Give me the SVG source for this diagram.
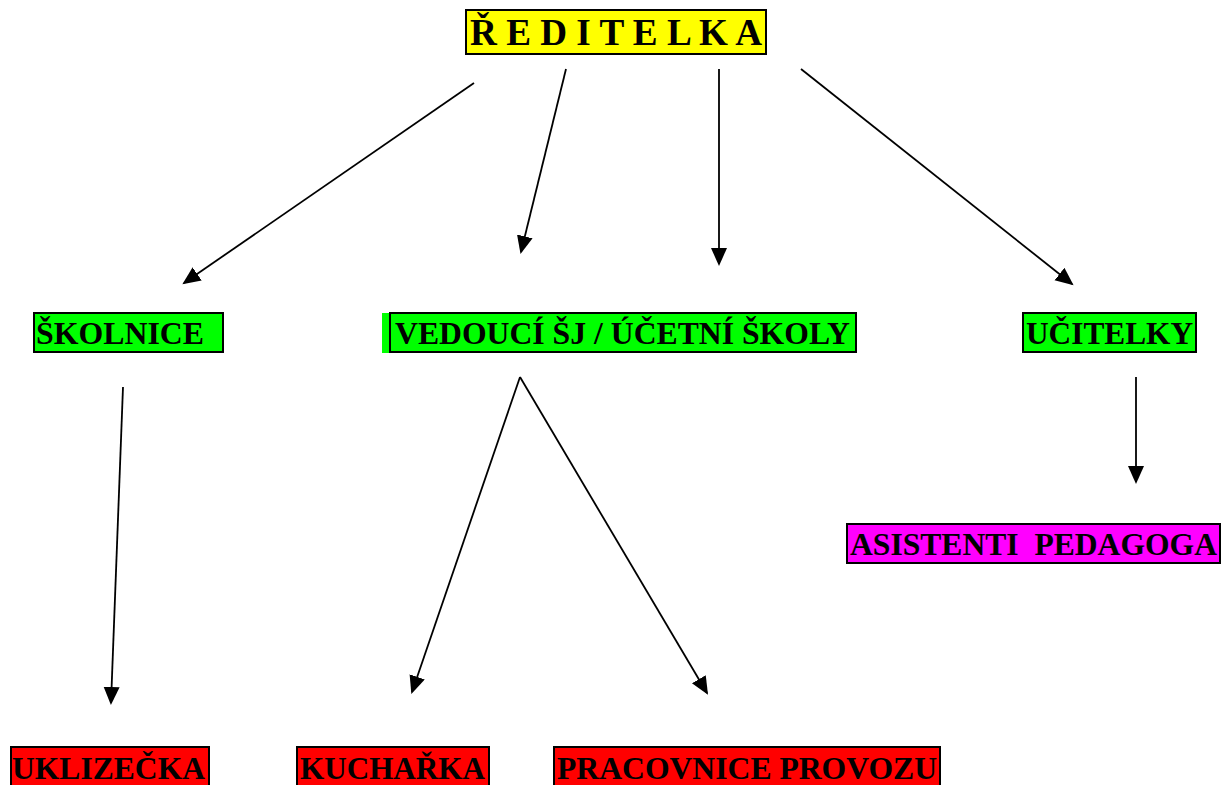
<svg xmlns="http://www.w3.org/2000/svg" width="1229" height="785" viewBox="0 0 1229 785">
<style>
.box{stroke:#000;stroke-width:2}
.y{fill:#ffff00}.g{fill:#00ff00}.r{fill:#ff0000}.m{fill:#ff00ff}
text{font-family:"Liberation Serif","Times New Roman",serif;font-weight:bold;font-size:32px;fill:#000;white-space:pre}
.c{stroke:#000;stroke-width:1.8;fill:none;marker-end:url(#ah)}
</style>
<defs>
<marker id="ah" markerUnits="userSpaceOnUse" markerWidth="20" markerHeight="18" refX="16" refY="8" orient="auto">
<path d="M0,0 L18,8 L0,16 z" fill="#000"/>
</marker>
</defs>
<rect width="1229" height="785" fill="#fff"/>
<g id="connectors">
<line class="c" x1="474" y1="83" x2="184" y2="283"/>
<line class="c" x1="566" y1="69" x2="521" y2="252"/>
<line class="c" x1="719" y1="69" x2="719" y2="264"/>
<line class="c" x1="801" y1="69" x2="1072" y2="284"/>
<line class="c" x1="123" y1="387" x2="111" y2="703"/>
<line class="c" x1="520" y1="377" x2="412" y2="692"/>
<line class="c" x1="520" y1="377" x2="707" y2="693"/>
<line class="c" x1="1136" y1="377" x2="1136" y2="482"/>
</g>
<g id="reditelka">
<rect class="box y" x="466" y="10" width="300" height="44"/>
<text x="470" y="45" style="font-size:37px" textLength="292" lengthAdjust="spacingAndGlyphs">Ř E D I T E L K A</text>
</g>
<g id="skolnice">
<rect class="box g" x="34" y="313" width="189" height="39"/>
<text x="36" y="344" textLength="168" lengthAdjust="spacingAndGlyphs">ŠKOLNICE</text>
</g>
<g id="vedouci">
<rect x="382" y="313" width="9" height="40" fill="#00ff00"/>
<rect class="box g" x="390" y="313" width="466" height="39"/>
<text x="395" y="344" textLength="455" lengthAdjust="spacingAndGlyphs">VEDOUCÍ ŠJ / ÚČETNÍ ŠKOLY</text>
</g>
<g id="ucitelky">
<rect class="box g" x="1023" y="313" width="173" height="39"/>
<text x="1026" y="344" textLength="167" lengthAdjust="spacingAndGlyphs">UČITELKY</text>
</g>
<g id="asistenti">
<rect class="box m" x="847" y="524" width="373" height="39"/>
<text x="850" y="555" textLength="367" lengthAdjust="spacingAndGlyphs">ASISTENTI  PEDAGOGA</text>
</g>
<g id="uklizecka">
<rect class="box r" x="11" y="747" width="198" height="50"/>
<text x="12" y="779" textLength="193" lengthAdjust="spacingAndGlyphs">UKLIZEČKA</text>
</g>
<g id="kucharka">
<rect class="box r" x="297" y="747" width="192" height="50"/>
<text x="300" y="779" textLength="185" lengthAdjust="spacingAndGlyphs">KUCHAŘKA</text>
</g>
<g id="pracovnice">
<rect class="box r" x="554" y="747" width="386" height="50"/>
<text x="557" y="779" textLength="380" lengthAdjust="spacingAndGlyphs">PRACOVNICE PROVOZU</text>
</g>
</svg>
